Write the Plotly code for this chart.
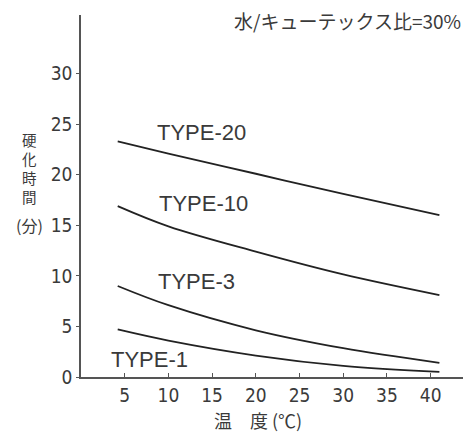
import plotly.graph_objects as go

temps = [4.2, 10.0, 20.0, 30.0, 41.0]
type20 = [23.3, 22.1, 20.1, 18.1, 16.0]
type10 = [16.9, 14.9, 12.4, 10.15, 8.1]
type3 = [9.0, 7.1, 4.62, 2.85, 1.4]
type1 = [4.7, 3.6, 2.12, 1.1, 0.5]
series = [("TYPE-20", type20), ("TYPE-10", type10), ("TYPE-3", type3), ("TYPE-1", type1)]
label_pos = {"TYPE-20": (13.8, 24.2), "TYPE-10": (14.0, 17.2), "TYPE-3": (13.2, 9.4), "TYPE-1": (7.8, 1.7)}
xticks = [5, 10, 15, 20, 25, 30, 35, 40]
yticks = [0, 5, 10, 15, 20, 25, 30]
ylabel_chars = ["硬", "化", "時", "間"]

LINE = "#222222"
TXT = "#3a3a3a"
NARROW = "DejaVu Sans Condensed, Liberation Sans Narrow, Liberation Sans"
REG = "Liberation Sans, Arial"
CJK = "Noto Sans CJK JP"

fig = go.Figure()
for name, vals in series:
    fig.add_trace(go.Scatter(x=temps, y=vals, mode="lines", name=name,
                             line=dict(color=LINE, width=1.8, shape="spline", smoothing=1.0),
                             showlegend=False, hoverinfo="skip"))
    lx, ly = label_pos[name]
    fig.add_annotation(x=lx, y=ly, xref="x", yref="y", text=name, showarrow=False,
                       font=dict(family=REG, size=22, color=TXT))

fig.add_annotation(x=1.0, y=0.986, xref="paper", yref="paper", xanchor="right", yanchor="middle",
                   text="水/キューテックス比=30%", showarrow=False,
                   font=dict(family=CJK, size=19, color=TXT))
for i, ch in enumerate(ylabel_chars):
    fig.add_annotation(x=-0.134, y=0.657 - i * 0.053, xref="paper", yref="paper",
                       xanchor="center", yanchor="middle", text=ch, showarrow=False,
                       borderpad=0, font=dict(family=CJK, size=14.5, color=TXT))
fig.add_annotation(x=-0.136, y=0.42, xref="paper", yref="paper", xanchor="center", yanchor="middle",
                   text="(分)", showarrow=False, borderpad=0,
                   font=dict(family=CJK, size=16, color=TXT))
fig.add_annotation(x=0.463, y=-0.12, xref="paper", yref="paper", xanchor="center", yanchor="middle",
                   text="温　度 (℃)", showarrow=False,
                   font=dict(family=CJK, size=18, color=TXT))

fig.update_xaxes(range=[0, 43.7], tickvals=xticks, ticktext=[str(v) for v in xticks],
                 showgrid=False, zeroline=False, showline=True, linecolor="#555555", linewidth=1.5,
                 ticks="inside", ticklen=4, tickcolor="#555555",
                 tickfont=dict(family=NARROW, size=19, color=TXT))
fig.update_yaxes(range=[0, 35.8], tickvals=yticks, ticktext=[str(v) for v in yticks],
                 showgrid=False, zeroline=False, showline=True, linecolor="#555555", linewidth=1.5,
                 ticks="outside", ticklen=3, tickcolor="#555555",
                 tickfont=dict(family=NARROW, size=19, color=TXT))
fig.update_layout(width=469, height=435, margin=dict(l=81, r=6, t=15, b=58),
                  paper_bgcolor="white", plot_bgcolor="white")
fig.write_html("out.html", config={"displayModeBar": False},
               post_script="document.body.style.margin='0';")
